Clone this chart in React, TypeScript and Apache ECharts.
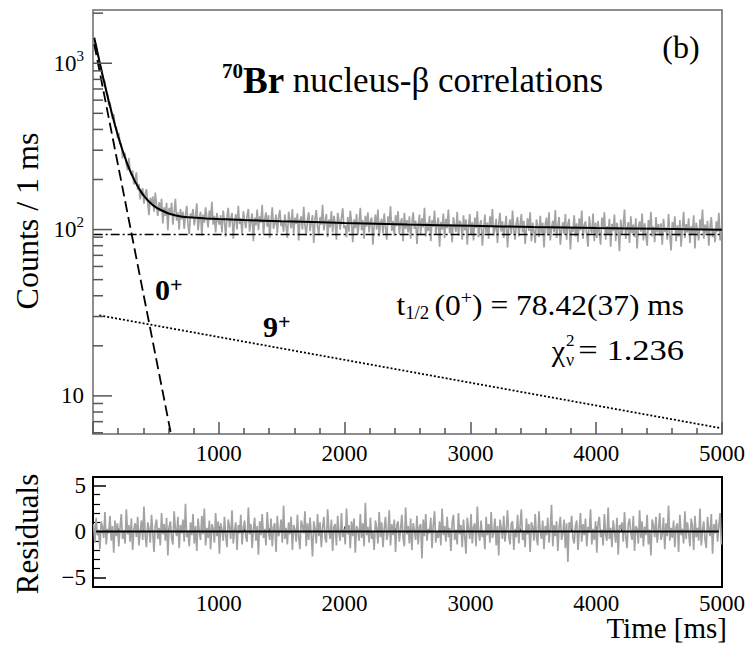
import React, { useEffect, useRef } from 'react';
import * as echarts from 'echarts';

const FONT = '"Liberation Serif", "Times New Roman", Times, serif';

// histogram bins plotted every 10 ms (bin centres)
const binStart = 5;
const binStep = 10;

// Counts / 1 ms (grey histogram)
const counts = [
  1440,1337,1301,1158,1097,954,949,839,799,774,
  666,646,555,581,518,463,495,418,414,354,
  381,327,328,268,289,286,247,227,269,225,
  213,227,187,201,221,173,188,152,170,177,
  143,164,175,145,122,155,144,158,128,167,
  140,121,146,128,153,109,136,121,145,99,
  135,122,145,107,126,153,113,127,100,133,
  115,128,101,122,139,108,94,125,117,133,
  106,120,144,99,116,128,92,123,110,136,
  118,103,130,114,147,107,121,96,126,112,
  107,122,96,130,113,91,119,135,103,116,
  126,88,111,124,100,139,108,117,94,129,
  114,102,121,133,97,112,125,85,118,106,
  132,99,120,110,141,93,115,127,104,122,
  89,113,136,101,109,123,95,117,131,105,
  111,97,123,105,89,128,114,102,133,95,
  118,108,125,86,113,120,100,137,106,92,
  115,127,98,110,122,83,116,131,104,94,
  119,107,141,99,112,124,90,115,103,129,
  96,121,109,87,126,113,100,118,134,102,
  106,90,119,97,130,111,84,115,102,124,
  93,109,135,99,114,88,121,104,127,96,
  112,118,81,107,123,100,132,91,110,116,
  95,125,103,87,120,108,138,98,113,92,
  122,105,129,94,111,117,85,126,101,114,
  96,120,88,109,127,101,113,82,106,123,
  94,117,103,135,91,110,98,121,85,114,
  104,130,93,107,118,79,111,100,125,89,
  116,102,132,95,108,84,119,105,97,128,
  92,113,109,87,122,99,115,81,106,124,
  93,111,86,118,102,129,90,107,114,80,
  99,123,95,110,88,120,104,133,92,101,
  116,83,108,126,97,112,89,105,121,78,
  103,115,94,130,100,87,109,119,91,106,
  124,96,113,82,102,117,98,127,85,110,
  98,83,115,104,90,121,95,110,78,107,
  118,92,127,86,102,113,96,131,89,105,
  119,81,100,111,94,124,87,108,116,76,
  103,97,122,91,109,84,117,99,130,88,
  106,112,93,79,120,101,95,125,85,110,
  89,113,96,81,118,102,127,87,105,94,
  116,79,108,98,123,85,110,100,74,115,
  93,106,132,88,101,111,83,120,95,107,
  90,117,77,103,112,97,125,86,109,92,
  80,114,99,128,91,104,84,119,96,108,
  92,109,81,116,97,103,87,124,94,75,
  111,100,120,85,106,91,114,79,102,128,
  89,108,96,117,83,105,93,122,77,110,
  98,86,115,101,132,88,107,95,113,80,
  104,119,90,99,84,112,97,126,86,103,
];

// Residuals (grey), same bins
const residuals = [
  0.8,-1.2,1.5,-0.4,0.2,-1.9,1.1,0.5,-0.7,2.1,-1.4,0.3,-0.2,1.7,-1.0,0.6,-2.3,1.2,-0.5,0.9,
  -1.6,0.4,1.9,-0.8,0.1,-1.3,2.4,-0.3,0.7,-1.1,1.4,-2.0,0.2,0.9,-0.6,1.6,-1.5,0.0,1.2,-0.9,
  2.7,-0.4,-1.7,1.0,0.3,-1.2,1.8,-0.1,-2.2,0.6,1.3,-0.8,0.4,-1.5,2.0,-0.3,0.8,-1.0,1.5,-2.6,
  0.5,1.1,-0.7,-1.4,2.2,0.2,-0.5,1.6,-1.8,0.7,-0.2,1.3,-1.1,3.0,-0.6,0.1,-1.6,1.0,-0.4,1.9,
  -1.3,0.6,-2.1,1.4,0.0,-0.9,1.7,-0.3,2.5,-1.5,0.4,-0.7,1.2,-1.9,0.8,0.3,-1.2,2.0,-0.5,1.1,
  -2.4,0.9,0.2,-1.0,1.6,-0.4,-1.7,1.3,0.5,-0.8,2.3,-1.3,0.1,1.0,-2.0,0.7,-0.2,1.8,-1.4,0.4,
  1.2,-0.6,-1.1,2.6,-0.3,0.8,-1.8,0.2,1.5,-1.0,0.6,-2.5,1.1,-0.4,1.9,-0.7,0.3,-1.5,2.1,-0.1,
  -0.9,1.4,-1.6,0.5,0.9,-2.2,1.7,-0.5,0.0,1.3,-1.2,2.8,-0.8,0.4,-1.4,1.0,-0.3,1.6,-2.0,0.7,
  0.2,-1.1,1.8,-0.6,-1.9,1.2,0.6,-0.2,2.2,-1.6,0.9,-0.9,1.5,-0.4,-2.7,1.1,0.3,-1.3,1.9,-0.5,
  1.0,-1.7,0.4,1.6,-0.7,-1.2,2.4,0.1,-0.8,1.3,-2.1,0.5,0.8,-1.5,1.7,-0.2,-1.0,2.0,-0.6,0.3,
  -1.4,2.5,-0.3,0.7,-1.8,1.1,-0.5,1.4,-2.3,0.6,0.2,-1.0,1.9,-0.7,0.9,-1.6,3.1,-0.4,0.5,-1.2,
  1.5,-0.8,0.0,-2.0,1.2,0.4,-1.3,2.1,-0.6,1.0,-1.7,0.3,1.6,-0.9,-0.2,2.3,-1.5,0.8,-0.4,1.3,
  -2.2,0.7,1.1,-1.1,0.2,1.8,-0.7,-1.6,2.6,-0.3,0.6,-1.3,1.4,-2.0,0.9,0.1,-0.9,1.7,-1.4,0.5,
  0.8,-2.9,1.3,-0.5,1.9,-1.0,0.3,-0.2,1.5,-1.8,0.7,2.2,-1.2,0.0,-0.7,1.1,-1.5,2.5,-0.4,0.6,
  -1.1,1.6,-0.6,0.4,-2.1,1.0,1.8,-0.9,0.2,-1.4,2.0,-0.3,0.7,-1.7,1.3,-0.5,-2.4,1.5,0.3,-0.8,
  1.9,-1.3,0.5,0.9,-1.6,2.7,-0.2,-1.0,1.2,-0.6,0.1,-1.9,1.6,-0.4,0.8,-1.2,2.1,-0.7,-0.1,1.4,
  -1.5,0.6,-2.6,1.3,0.4,-0.8,1.7,-1.1,0.2,2.3,-0.5,-1.4,0.9,1.1,-2.0,0.3,-0.6,1.8,-1.3,0.7,
  2.4,-0.9,0.1,-1.7,1.4,-0.3,0.8,-2.2,1.0,0.5,-1.0,1.9,-0.6,-1.5,2.2,0.0,-0.8,1.2,-1.9,0.6,
  -0.4,1.5,-1.2,0.3,2.9,-1.6,0.7,-0.5,1.1,-2.1,0.4,1.6,-0.9,-0.2,1.3,-1.8,0.9,-3.3,1.0,0.2,
  1.7,-0.7,-1.3,0.6,1.2,-2.0,0.1,2.0,-1.1,0.8,-0.4,1.4,-1.6,0.5,-0.1,2.4,-1.4,0.3,-0.9,1.1,
  -2.3,0.9,1.6,-0.6,0.2,-1.5,1.9,-0.3,-1.0,2.6,-0.8,0.4,-1.7,1.2,0.0,-1.2,1.5,-2.5,0.7,0.3,
  1.0,-1.1,2.1,-0.5,-1.8,0.8,1.4,-0.2,-0.9,1.7,-2.1,0.6,0.3,-1.3,2.3,-0.7,1.1,-1.6,0.5,-0.4,
  1.8,-1.4,0.2,-2.6,1.3,0.7,-0.6,1.6,-1.2,0.1,2.0,-0.9,-0.3,1.5,-1.9,0.9,-0.5,2.8,-1.0,0.4,
  -0.7,1.2,-1.7,0.5,0.9,-2.2,1.8,-0.4,0.3,-1.3,2.2,-0.8,1.0,-0.1,-1.6,1.4,0.6,-2.0,1.7,-0.6,
  0.4,-1.0,2.5,-1.5,0.1,1.1,-0.9,-1.8,1.6,0.3,-0.5,1.9,-2.4,0.8,-0.2,1.3,-1.1,0.6,2.0,-1.4,
];

// total fit curve (solid black)
const fitTimes = [10,25,50,75,100,125,150,175,200,225,250,275,300,325,350,375,400,450,500,550,600,700,800,900,1000,1200,1500,2000,2500,3000,3500,4000,4500,5000];
const fitCounts = [1423,1261,1035,854,709,593,499,424,364,316,277,246,221,201,185,172,161,146,136,130,125,120,118,116.5,115.6,114.1,112.2,109.6,107.3,105.3,103.6,102.2,101.0,99.9];
// 0+ component (dashed)
const comp0Times = [10, 620];
const comp0Counts = [1300, 5.9];
// 9+ component (dotted)
const comp9Times = [50, 4990];
const comp9Counts = [30.5, 6.4];
// constant background (dash-dot)
const bgTimes = [5, 4990];
const bgCounts = [93.5, 93.5];
// residual zero line
const zeroTimes = [25, 4975];
const zeroResid = [0, 0];

// tick values of the log axis (majors flagged)
const logTickValues = [6,7,8,9,10,20,30,40,50,60,70,80,90,100,200,300,400,500,600,700,800,900,1000,2000];
const logMajor = [10, 100, 1000];

const pair = (xs: number[], ys: number[]) => xs.map((x, i) => [x, ys[i]]);
const binned = (ys: number[]) => ys.map((y, i) => [binStart + i * binStep, y]);

const axisGray = '#555';
const dataGray = '#a3a3a3';

const option: any = {
  animation: false,
  backgroundColor: '#fff',
  grid: [
    { left: 93, top: 10, width: 629, height: 424, show: true, borderColor: '#6a6a6a', borderWidth: 1.5, outerBoundsMode: 'none' },
    { left: 93, top: 477, width: 629, height: 110, show: true, borderColor: '#000', borderWidth: 2, outerBoundsMode: 'none' },
  ],
  xAxis: [
    {
      gridIndex: 0, type: 'value', min: 0, max: 5000, interval: 1000,
      axisLine: { show: false },
      axisTick: { show: true, inside: true, length: 12, lineStyle: { color: axisGray, width: 1.5 } },
      minorTick: { show: true, splitNumber: 5, length: 6, lineStyle: { color: axisGray, width: 1.5 } },
      splitLine: { show: false },
      axisLabel: {
        margin: 8, fontSize: 23, fontFamily: FONT, color: '#000',
        formatter: (v: number) => (v === 0 ? '' : String(v)),
      },
    },
    {
      gridIndex: 1, type: 'value', min: 0, max: 5000, interval: 1000,
      axisLine: { show: false },
      axisTick: { show: true, inside: true, length: 5, lineStyle: { color: '#000', width: 1.5 } },
      minorTick: { show: true, splitNumber: 5, length: 3, lineStyle: { color: '#000', width: 1.2 } },
      splitLine: { show: false },
      axisLabel: {
        margin: 5, fontSize: 23, fontFamily: FONT, color: '#000',
        formatter: (v: number) => (v === 0 ? '' : String(v)),
      },
    },
  ],
  yAxis: [
    {
      gridIndex: 0, type: 'log', logBase: 10, min: 5.9, max: 2090,
      axisLine: { show: false },
      axisTick: { show: false },
      minorTick: { show: false },
      splitLine: { show: false },
      axisLabel: {
        margin: 9, fontSize: 23, fontFamily: FONT, color: '#000', lineHeight: 30,
        showMinLabel: false, showMaxLabel: false,
        formatter: (v: number) => {
          const l = Math.log10(v);
          const e = Math.round(l);
          if (Math.abs(l - e) > 1e-6) return '';
          if (e === 1) return '10';
          return '10{s|' + e + '}';
        },
        rich: { s: { fontSize: 15, fontFamily: FONT, color: '#000', verticalAlign: 'top', lineHeight: 14 } },
      },
    },
    {
      gridIndex: 1, type: 'value', min: -6, max: 5.9, splitNumber: 2,
      axisLine: { show: false },
      axisTick: { show: true, inside: true, length: 13, lineStyle: { color: '#000', width: 1.5 } },
      minorTick: { show: true, splitNumber: 5, length: 7, lineStyle: { color: '#000', width: 1.2 } },
      splitLine: { show: false },
      axisLabel: {
        margin: 7, fontSize: 23, fontFamily: FONT, color: '#000',
        showMinLabel: false, showMaxLabel: false,
        formatter: (v: number) => (v === 5 || v === 0 || v === -5 ? (v < 0 ? '\u2212' + Math.abs(v) : String(v)) : ''),
      },
    },
  ],
  series: [
    {
      name: 'data', type: 'line', xAxisIndex: 0, yAxisIndex: 0, data: binned(counts),
      symbol: 'none', silent: true, z: 2,
      lineStyle: { color: dataGray, width: 1.7 },
    },
    {
      name: 'bg', type: 'line', xAxisIndex: 0, yAxisIndex: 0, data: pair(bgTimes, bgCounts),
      symbol: 'none', silent: true, z: 3,
      lineStyle: { color: '#000', width: 1.5, type: [9, 3, 2, 3] },
    },
    {
      name: '9+', type: 'line', xAxisIndex: 0, yAxisIndex: 0, data: pair(comp9Times, comp9Counts),
      symbol: 'none', silent: true, z: 3,
      lineStyle: { color: '#000', width: 1.8, type: [2, 2] },
    },
    {
      name: '0+', type: 'line', xAxisIndex: 0, yAxisIndex: 0, data: pair(comp0Times, comp0Counts),
      symbol: 'none', silent: true, z: 3,
      lineStyle: { color: '#000', width: 1.8, type: [11, 5] },
    },
    {
      name: 'fit', type: 'line', xAxisIndex: 0, yAxisIndex: 0, data: pair(fitTimes, fitCounts),
      symbol: 'none', silent: true, z: 4, smooth: 0.2,
      lineStyle: { color: '#000', width: 2 },
    },
    {
      name: 'logticks', type: 'custom', xAxisIndex: 0, yAxisIndex: 0, silent: true, z: 5,
      data: logTickValues.map((v) => [0, v, logMajor.includes(v) ? 1 : 0]),
      renderItem: (params: any, api: any) => {
        const p = api.coord([api.value(0), api.value(1)]);
        const len = api.value(2) ? 19 : 10;
        return {
          type: 'line',
          shape: { x1: p[0], y1: p[1], x2: p[0] + len, y2: p[1] },
          style: { stroke: axisGray, lineWidth: 1.5 },
        };
      },
    },
    {
      name: 'residuals', type: 'line', xAxisIndex: 1, yAxisIndex: 1, data: binned(residuals),
      symbol: 'none', silent: true, z: 2,
      lineStyle: { color: dataGray, width: 1.7 },
    },
    {
      name: 'zero', type: 'line', xAxisIndex: 1, yAxisIndex: 1, data: pair(zeroTimes, zeroResid),
      symbol: 'none', silent: true, z: 4,
      lineStyle: { color: '#000', width: 2 },
    },
  ],
  graphic: [
    {
      type: 'text', x: 222, y: 80, silent: true,
      style: {
        text: '{sup|70}{b|Br}{n| nucleus-\u03b2 correlations}',
        align: 'left', verticalAlign: 'middle', fontFamily: FONT, fill: '#000',
        rich: {
          sup: { fontSize: 21, fontWeight: 'bold', fontFamily: FONT, fill: '#000', verticalAlign: 'top', lineHeight: 22 },
          b: { fontSize: 37, fontWeight: 'bold', fontFamily: FONT, fill: '#000', lineHeight: 40 },
          n: { fontSize: 35, fontFamily: FONT, fill: '#000', lineHeight: 40 },
        },
      },
    },
    {
      type: 'text', x: 681, y: 47, silent: true,
      style: { text: '(b)', fontSize: 32, fontFamily: FONT, fill: '#000', align: 'center', verticalAlign: 'middle' },
    },
    {
      type: 'text', x: 684, y: 305, scaleX: 1.05, silent: true,
      style: {
        text: '{m|t}{sub|1/2}{m|(0}{sup|+}{m|) = 78.42(37) ms}',
        align: 'right', verticalAlign: 'middle', fontFamily: FONT, fill: '#000',
        rich: {
          m: { fontSize: 30, fontFamily: FONT, fill: '#000', lineHeight: 34 },
          sub: { fontSize: 18, fontFamily: FONT, fill: '#000', lineHeight: 18, verticalAlign: 'bottom', padding: [0, 5, 0, 0] },
          sup: { fontSize: 19, fontFamily: FONT, fill: '#000', lineHeight: 26, verticalAlign: 'top' },
        },
      },
    },
    {
      type: 'text', x: 684, y: 350, scaleX: 1.15, silent: true,
      style: { text: '= 1.236', fontSize: 30, fontFamily: FONT, fill: '#000', align: 'right', verticalAlign: 'middle' },
    },
    {
      type: 'text', x: 565, y: 350, silent: true,
      style: { text: '\u03c7', fontSize: 30, fontFamily: FONT, fill: '#000', align: 'right', verticalAlign: 'middle' },
    },
    {
      type: 'text', x: 566, y: 340, silent: true,
      style: { text: '2', fontSize: 17, fontFamily: FONT, fill: '#000', align: 'left', verticalAlign: 'middle' },
    },
    {
      type: 'text', x: 566, y: 360, silent: true,
      style: { text: '\u03bd', fontSize: 18, fontFamily: FONT, fill: '#000', align: 'left', verticalAlign: 'middle' },
    },
    {
      type: 'text', x: 155, y: 289, silent: true,
      style: {
        text: '{b|0}{s|+}', align: 'left', verticalAlign: 'middle', fontFamily: FONT, fill: '#000',
        rich: {
          b: { fontSize: 30, fontWeight: 'bold', fontFamily: FONT, fill: '#000', lineHeight: 32 },
          s: { fontSize: 22, fontWeight: 'bold', fontFamily: FONT, fill: '#000', lineHeight: 18, verticalAlign: 'top' },
        },
      },
    },
    {
      type: 'text', x: 263, y: 326, silent: true,
      style: {
        text: '{b|9}{s|+}', align: 'left', verticalAlign: 'middle', fontFamily: FONT, fill: '#000',
        rich: {
          b: { fontSize: 30, fontWeight: 'bold', fontFamily: FONT, fill: '#000', lineHeight: 32 },
          s: { fontSize: 22, fontWeight: 'bold', fontFamily: FONT, fill: '#000', lineHeight: 18, verticalAlign: 'top' },
        },
      },
    },
    {
      type: 'text', x: 27, y: 221, rotation: Math.PI / 2, silent: true,
      style: { text: 'Counts / 1 ms', fontSize: 32, fontFamily: FONT, fill: '#000', align: 'center', verticalAlign: 'middle' },
    },
    {
      type: 'text', x: 27, y: 534, rotation: Math.PI / 2, silent: true,
      style: { text: 'Residuals', fontSize: 31, fontFamily: FONT, fill: '#000', align: 'center', verticalAlign: 'middle' },
    },
    {
      type: 'text', x: 727, y: 628, silent: true,
      style: { text: 'Time [ms]', fontSize: 29, fontFamily: FONT, fill: '#000', align: 'right', verticalAlign: 'middle' },
    },
  ],
};

export default function App() {
  const ref = useRef<HTMLDivElement>(null);
  useEffect(() => {
    if (!ref.current) return;
    const chart = echarts.init(ref.current, undefined, { renderer: 'svg' });
    chart.setOption(option);
    return () => chart.dispose();
  }, []);
  return (
    <div
      ref={ref}
      style={{ position: 'absolute', left: 0, top: 0, width: 748, height: 646, background: '#fff' }}
    />
  );
}
